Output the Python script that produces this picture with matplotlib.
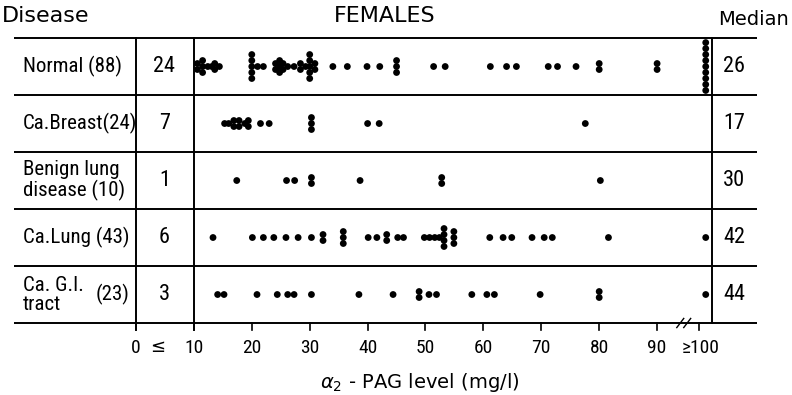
import matplotlib
matplotlib.use("Agg")
import matplotlib.pyplot as plt
from matplotlib import font_manager
import numpy as np

# -----------------------------
# DATA
# -----------------------------
row_labels = ["Normal (88)", "Ca.Breast(24)", "Benign lung\ndisease (10)",
              "Ca.Lung (43)", "Ca. G.I.\ntract"]
gi_total = "(23)"
low_counts = [24, 7, 1, 6, 3]      # patients at <= 10 mg/l
medians = [26, 17, 30, 42, 44]

# individual values (mg/l); 100 means ">= 100"
normal = [10.6, 10.6, 11.5, 11.5, 11.5, 12.4, 13.1, 13.6, 13.6, 14.4,
          20, 20, 20, 20, 20, 21, 22, 24.1, 24.1, 24.8, 24.8, 24.8,
          25.4, 25.4, 26.2, 27.3, 28.4, 28.4, 29.3, 30, 30, 30, 30, 30,
          30.9, 30.9, 34, 36.5, 39.9, 42.1, 45, 45, 45, 51.4, 53.4,
          61.2, 64, 65.7, 71.2, 72.8, 76, 80, 80, 90, 90,
          100, 100, 100, 100, 100, 100, 100, 100, 100]
ca_breast = [15.3, 16.0, 16.9, 16.9, 17.8, 17.8, 18.8, 19.4, 19.4,
             21.5, 23.0, 30.3, 30.3, 30.3, 40.0, 42.0, 77.6]
benign_lung = [17.4, 26.0, 27.4, 30.3, 30.3, 38.7, 52.8, 52.8, 80.2]
ca_lung = [13.3, 20.1, 22.0, 23.8, 25.9, 28.0, 30.3, 32.3, 32.3,
           35.8, 35.8, 35.8, 40.1, 41.6, 43.3, 43.3, 45.2, 46.2,
           49.8, 50.7, 51.6, 52.4, 53.2, 53.2, 53.2, 53.2,
           54.9, 54.9, 54.9, 61.1, 63.4, 64.9, 68.4, 70.5, 71.9, 81.6, 100]
ca_gi = [14.1, 15.2, 20.9, 24.4, 26.2, 27.3, 30.3, 38.5, 44.4, 48.9, 48.9,
         50.6, 51.9, 58.0, 60.6, 61.9, 69.8, 80.0, 80.0, 100]
row_values = [normal, ca_breast, benign_lung, ca_lung, ca_gi]

tick_values = [0, 10, 20, 30, 40, 50, 60, 70, 80, 90]
tick_labels = ["0", "10", "20", "30", "40", "50", "60", "70", "80", "90"]

# -----------------------------
# LAYOUT (value units on x, row units on y)
# -----------------------------
OVER_X = 98.4        # where ">= 100" dots sit
OVER_TICK = 97.2
RIGHT_EDGE = 99.5
LINE_LEFT, LINE_RIGHT = -21.0, 107.3
STACK_STEP = 0.105
TICK_LEN = 0.13

# pick a condensed face if one is installed
installed = {f.name for f in font_manager.fontManager.ttflist}
narrow_face = "Liberation Sans"
for cand in ["DejaVu Sans Condensed", "Liberation Sans Narrow",
             "Roboto Condensed", "Open Sans Condensed"]:
    if cand in installed:
        narrow_face = cand
        break
narrow = [narrow_face, "DejaVu Sans"]
plt.rcParams["font.family"] = ["DejaVu Sans"]

fig = plt.figure(figsize=(7.92, 3.95), dpi=100)
ax = fig.add_axes([0, 0, 1, 1])
ax.set_xlim(-23.49, 113.3)
ax.set_ylim(5.763, -1.167)
ax.axis("off")

n_rows = len(row_labels)

# table lines
for k in range(n_rows + 1):
    ax.plot([LINE_LEFT, LINE_RIGHT], [k - 0.5, k - 0.5], color="black", lw=1.4,
            solid_capstyle="butt")
for xv in (0, 10):
    ax.plot([xv, xv], [-0.5, n_rows - 0.5 + TICK_LEN], color="black", lw=1.4)
ax.plot([RIGHT_EDGE, RIGHT_EDGE], [-0.5, n_rows - 0.5], color="black", lw=1.4)

# ticks below bottom line
for xv in tick_values[2:] + [OVER_TICK]:
    ax.plot([xv, xv], [n_rows - 0.5, n_rows - 0.5 + TICK_LEN], color="black", lw=1.2)
for xv, lab in zip(tick_values, tick_labels):
    ax.text(xv, 4.94, lab, ha="center", va="center", fontsize=14, family=narrow)
ax.text(3.8, 4.92, "≤", ha="center", va="center", fontsize=13)
ax.text(OVER_TICK + 0.3, 4.93, "≥100", ha="center", va="center", fontsize=14,
        family=narrow)

# axis break
for dx in (-0.6, 0.6):
    cx = 94.6 + dx
    ax.plot([cx - 0.6, cx + 0.6], [n_rows - 0.5 + 0.08, n_rows - 0.5 - 0.08],
            color="black", lw=1.0)

# dots
for r, vals in enumerate(row_values):
    uniq, counts = np.unique(vals, return_counts=True)
    xs, ys = [], []
    for v, c in zip(uniq, counts):
        xpos = OVER_X if v >= 100 else v
        offs = (np.arange(c) - (c - 1) / 2) * STACK_STEP
        xs.extend([xpos] * c)
        ys.extend(r + offs)
    ax.scatter(xs, ys, s=24, color="black", edgecolors="none", zorder=3)

# row texts
for r, lab in enumerate(row_labels):
    ax.text(-19.6, r, lab, ha="left", va="center", fontsize=15, family=narrow,
            linespacing=1.0)
    ax.text(4.9, r, str(low_counts[r]), ha="center", va="center", fontsize=16,
            family=narrow)
    ax.text(103.3, r, str(medians[r]), ha="center", va="center", fontsize=16,
            family=narrow)
ax.text(-6.9, 4, gi_total, ha="left", va="center", fontsize=15, family=narrow)

# headers
ax.text(-23.2, -0.88, "Disease", ha="left", va="center", fontsize=16)
ax.text(43.0, -0.88, "FEMALES", ha="center", va="center", fontsize=16)
ax.text(106.6, -0.82, "Median", ha="center", va="center", fontsize=14)

ax.text(49.0, 5.55, r"$\alpha_2$ - PAG level (mg/l)", ha="center", va="center",
        fontsize=14)

fig.savefig("out.png", dpi=100)
